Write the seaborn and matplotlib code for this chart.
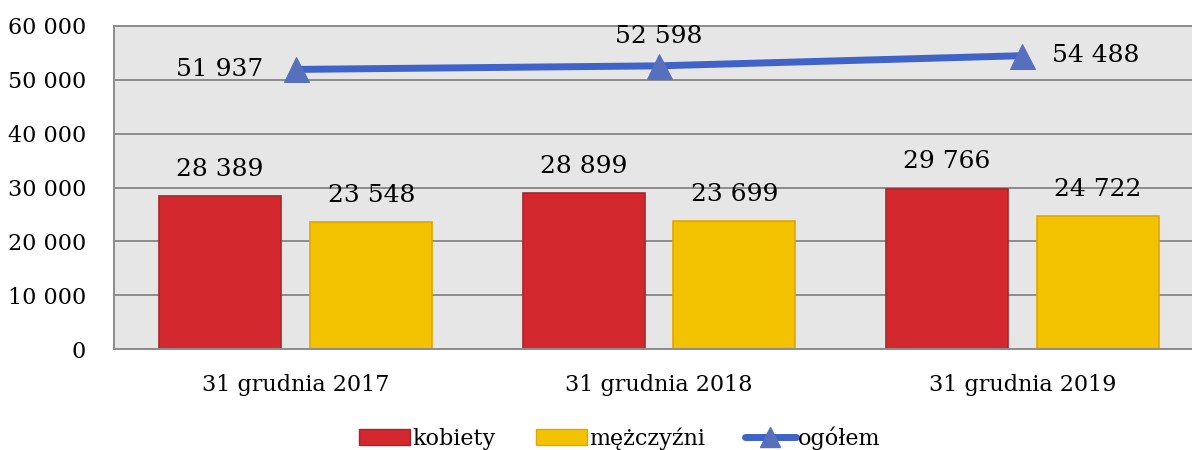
import pandas as pd
import seaborn as sns
import matplotlib.pyplot as plt
from matplotlib.patches import Patch
from matplotlib.lines import Line2D
from matplotlib.ticker import FuncFormatter

categories = ["31 grudnia 2017", "31 grudnia 2018", "31 grudnia 2019"]
kobiety = [28389, 28899, 29766]
mezczyzni = [23548, 23699, 24722]
ogolem = [51937, 52598, 54488]

RED = "#D2282E"
YELLOW = "#F2C200"
BLUE = "#3F63C9"


def fmt(v):
    return f"{int(v):,}".replace(",", " ")


sns.set_theme(style="white")
plt.rcParams["font.family"] = ["DejaVu Serif"]
plt.rcParams["text.color"] = "black"
plt.rcParams["xtick.color"] = "black"
plt.rcParams["ytick.color"] = "black"

df = pd.DataFrame({
    "kat": categories * 2,
    "plec": ["kobiety"] * 3 + ["mężczyźni"] * 3,
    "val": kobiety + mezczyzni,
})

fig = plt.figure(figsize=(11.92, 4.5), dpi=100)
ax = fig.add_axes([114 / 1192, 1 - 349 / 450, 1090 / 1192, 323 / 450])
ax.set_facecolor("#E6E6E6")

sns.barplot(data=df, x="kat", y="val", hue="plec",
            palette={"kobiety": RED, "mężczyźni": YELLOW},
            width=0.83, gap=0.19, ax=ax, legend=False, saturation=1)
for patch, c in zip(ax.patches, [RED] * 3 + [YELLOW] * 3):
    patch.set_edgecolor("#A5262A" if c == RED else "#E0A700")
    patch.set_linewidth(1.2)

sns.lineplot(x=[0, 1, 2], y=ogolem, ax=ax, color=BLUE, linewidth=5,
             marker="^", markersize=18, markerfacecolor="#5670BE",
             markeredgecolor="#5670BE", zorder=5)

# bar labels
for i, (k, m) in enumerate(zip(kobiety, mezczyzni)):
    ax.annotate(fmt(k), (i - 0.208, k), xytext=(0, 11), textcoords="offset points",
                ha="center", va="bottom", fontsize=18)
    ax.annotate(fmt(m), (i + 0.208, m), xytext=(0, 11), textcoords="offset points",
                ha="center", va="bottom", fontsize=18)

# line labels
offsets = [(-55, 0, "center", "center"), (0, 13, "center", "bottom"), (53, 0, "center", "center")]
for i, (v, (dx, dy, ha, va)) in enumerate(zip(ogolem, offsets)):
    ax.annotate(fmt(v), (i, v), xytext=(dx, dy), textcoords="offset points",
                ha=ha, va=va, fontsize=18)

ax.set_xlim(-0.5, 2.5)
ax.set_ylim(0, 60000)
ax.set_yticks(range(0, 60001, 10000))
ax.yaxis.set_major_formatter(FuncFormatter(lambda v, p: fmt(v)))
ax.tick_params(axis="y", labelsize=16, pad=20, length=0)
ax.tick_params(axis="x", labelsize=16, pad=18, length=0)
ax.set_xlabel("")
ax.set_ylabel("")
ax.grid(axis="y", color="#8C8C8C", linewidth=1.4)
ax.set_axisbelow(True)
for s in ax.spines.values():
    s.set_color("#8C8C8C")
    s.set_linewidth(1.4)

handles = [
    Patch(facecolor=RED, edgecolor="#A5262A"),
    Patch(facecolor=YELLOW, edgecolor="#E0A700"),
    Line2D([], [], color=BLUE, linewidth=5, marker="^", markersize=14,
           markerfacecolor="#5670BE", markeredgecolor="#5670BE"),
]
fig.legend(handles, ["kobiety", "mężczyźni", "ogółem"], loc="center",
           bbox_to_anchor=(0.52, 1 - 438 / 450), ncol=3, frameon=False,
           fontsize=16, handlelength=2.3, handleheight=0.7, handletextpad=0.1,
           columnspacing=1.8)

fig.savefig("out.png", dpi=100)
